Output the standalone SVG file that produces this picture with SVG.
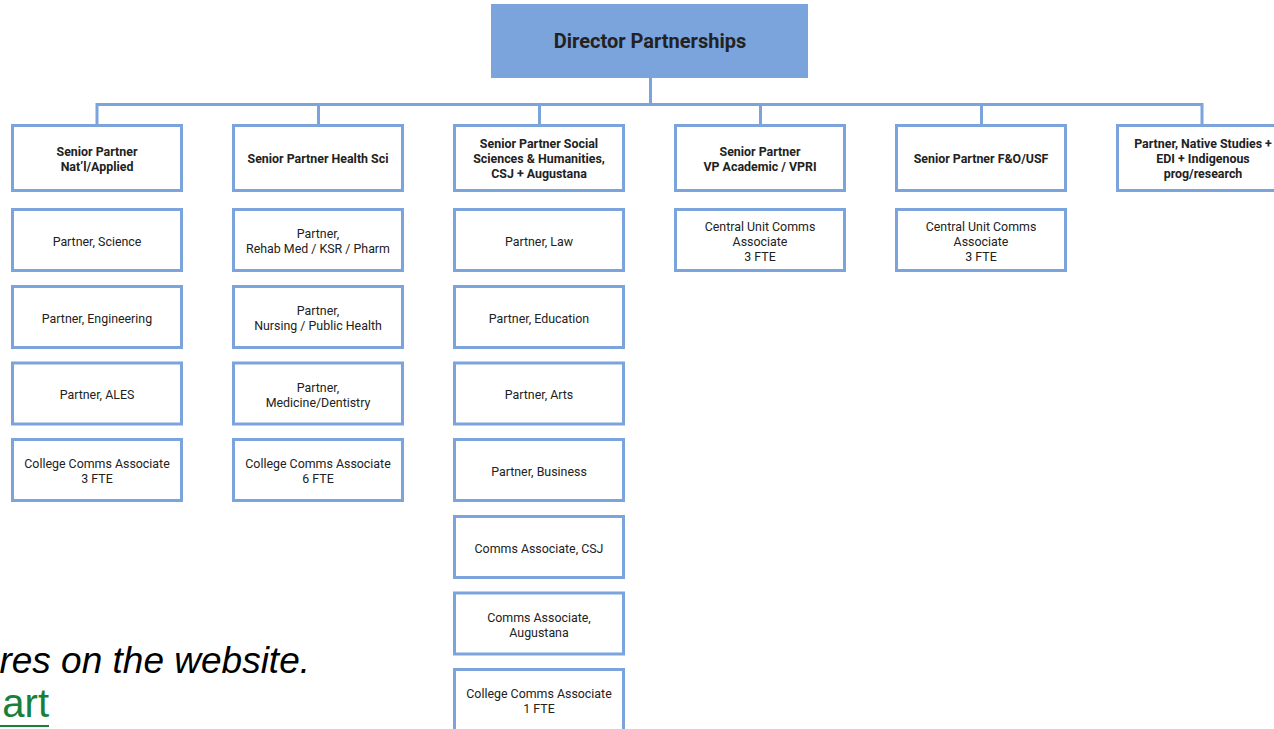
<svg xmlns="http://www.w3.org/2000/svg" width="1274" height="729" viewBox="0 0 1274 729">
<style>
.box{fill:#ffffff;stroke:#7ba3dc;stroke-width:3}
.top{fill:#7ba3dc}
.t{font-family:Roboto,"Liberation Sans",sans-serif;font-size:12.4px;fill:#222;text-anchor:middle;dominant-baseline:central}
.b{font-weight:bold}
.conn{stroke:#7ba3dc;stroke-width:3;fill:none}
</style>
<rect width="1274" height="729" fill="#ffffff"/>
<g id="connectors">
<path class="conn" d="M650.5 78 V104.5 M97 124 V104.5 H1202 V124 M318.5 104.5 V124 M539.5 104.5 V124 M760.5 104.5 V124 M981.5 104.5 V124"/>
</g>
<g id="director">
<rect class="top" x="491" y="4" width="317" height="74"/>
<text class="t b" x="650" y="41" style="font-size:20px">Director Partnerships</text>
</g>
<g id="sp1"><rect class="box" x="12.5" y="125.5" width="169" height="65"/>
<text class="t b" x="97" y="151">Senior Partner</text><text class="t b" x="97" y="166">Nat’l/Applied</text></g>
<g id="sp2"><rect class="box" x="233.5" y="125.5" width="169" height="65"/>
<text class="t b" x="318" y="158">Senior Partner Health Sci</text></g>
<g id="sp3"><rect class="box" x="454.5" y="125.5" width="169" height="65"/>
<text class="t b" x="539" y="143">Senior Partner Social</text><text class="t b" x="539" y="158">Sciences &amp; Humanities,</text><text class="t b" x="539" y="173">CSJ + Augustana</text></g>
<g id="sp4"><rect class="box" x="675.5" y="125.5" width="169" height="65"/>
<text class="t b" x="760" y="151">Senior Partner</text><text class="t b" x="760" y="166">VP Academic / VPRI</text></g>
<g id="sp5"><rect class="box" x="896.5" y="125.5" width="169" height="65"/>
<text class="t b" x="981" y="158">Senior Partner F&amp;O/USF</text></g>
<g id="sp6"><rect class="box" x="1117.5" y="125.5" width="169" height="65"/>
<text class="t b" x="1203" y="143">Partner, Native Studies +</text><text class="t b" x="1203" y="158">EDI + Indigenous</text><text class="t b" x="1203" y="173">prog/research</text></g>

<g id="c1r1"><rect class="box" x="12.5" y="209.5" width="169" height="61"/><text class="t" x="97" y="241">Partner, Science</text></g>
<g id="c1r2"><rect class="box" x="12.5" y="286.5" width="169" height="61"/><text class="t" x="97" y="318">Partner, Engineering</text></g>
<g id="c1r3"><rect class="box" x="12.5" y="363" width="169" height="61"/><text class="t" x="97" y="394.5">Partner, ALES</text></g>
<g id="c1r4"><rect class="box" x="12.5" y="439.5" width="169" height="61"/><text class="t" x="97" y="463.5">College Comms Associate</text><text class="t" x="97" y="478.5">3 FTE</text></g>

<g id="c2r1"><rect class="box" x="233.5" y="209.5" width="169" height="61"/><text class="t" x="318" y="233">Partner,</text><text class="t" x="318" y="248">Rehab Med / KSR / Pharm</text></g>
<g id="c2r2"><rect class="box" x="233.5" y="286.5" width="169" height="61"/><text class="t" x="318" y="310">Partner,</text><text class="t" x="318" y="325">Nursing / Public Health</text></g>
<g id="c2r3"><rect class="box" x="233.5" y="363" width="169" height="61"/><text class="t" x="318" y="387">Partner,</text><text class="t" x="318" y="402">Medicine/Dentistry</text></g>
<g id="c2r4"><rect class="box" x="233.5" y="439.5" width="169" height="61"/><text class="t" x="318" y="463.5">College Comms Associate</text><text class="t" x="318" y="478.5">6 FTE</text></g>

<g id="c3r1"><rect class="box" x="454.5" y="209.5" width="169" height="61"/><text class="t" x="539" y="241">Partner, Law</text></g>
<g id="c3r2"><rect class="box" x="454.5" y="286.5" width="169" height="61"/><text class="t" x="539" y="318">Partner, Education</text></g>
<g id="c3r3"><rect class="box" x="454.5" y="363" width="169" height="61"/><text class="t" x="539" y="394.5">Partner, Arts</text></g>
<g id="c3r4"><rect class="box" x="454.5" y="439.5" width="169" height="61"/><text class="t" x="539" y="471">Partner, Business</text></g>
<g id="c3r5"><rect class="box" x="454.5" y="516.5" width="169" height="61"/><text class="t" x="539" y="548">Comms Associate, CSJ</text></g>
<g id="c3r6"><rect class="box" x="454.5" y="593" width="169" height="61"/><text class="t" x="539" y="617">Comms Associate,</text><text class="t" x="539" y="632">Augustana</text></g>
<g id="c3r7"><rect class="box" x="454.5" y="669.5" width="169" height="61"/><text class="t" x="539" y="693.5">College Comms Associate</text><text class="t" x="539" y="708.5">1 FTE</text></g>

<g id="c4r1"><rect class="box" x="675.5" y="209.5" width="169" height="61"/><text class="t" x="760" y="226">Central Unit Comms</text><text class="t" x="760" y="241">Associate</text><text class="t" x="760" y="256">3 FTE</text></g>
<g id="c5r1"><rect class="box" x="896.5" y="209.5" width="169" height="61"/><text class="t" x="981" y="226">Central Unit Comms</text><text class="t" x="981" y="241">Associate</text><text class="t" x="981" y="256">3 FTE</text></g>

<text x="310" y="673" font-family="'Liberation Sans',Arial,sans-serif" font-style="italic" font-size="37" text-anchor="end" fill="#000">res on the website.</text>
<text x="49" y="717" font-family="'Liberation Sans',Arial,sans-serif" font-size="40" text-anchor="end" fill="#188038">art</text>
<rect x="0" y="725" width="49" height="2" fill="#188038"/>
</svg>
